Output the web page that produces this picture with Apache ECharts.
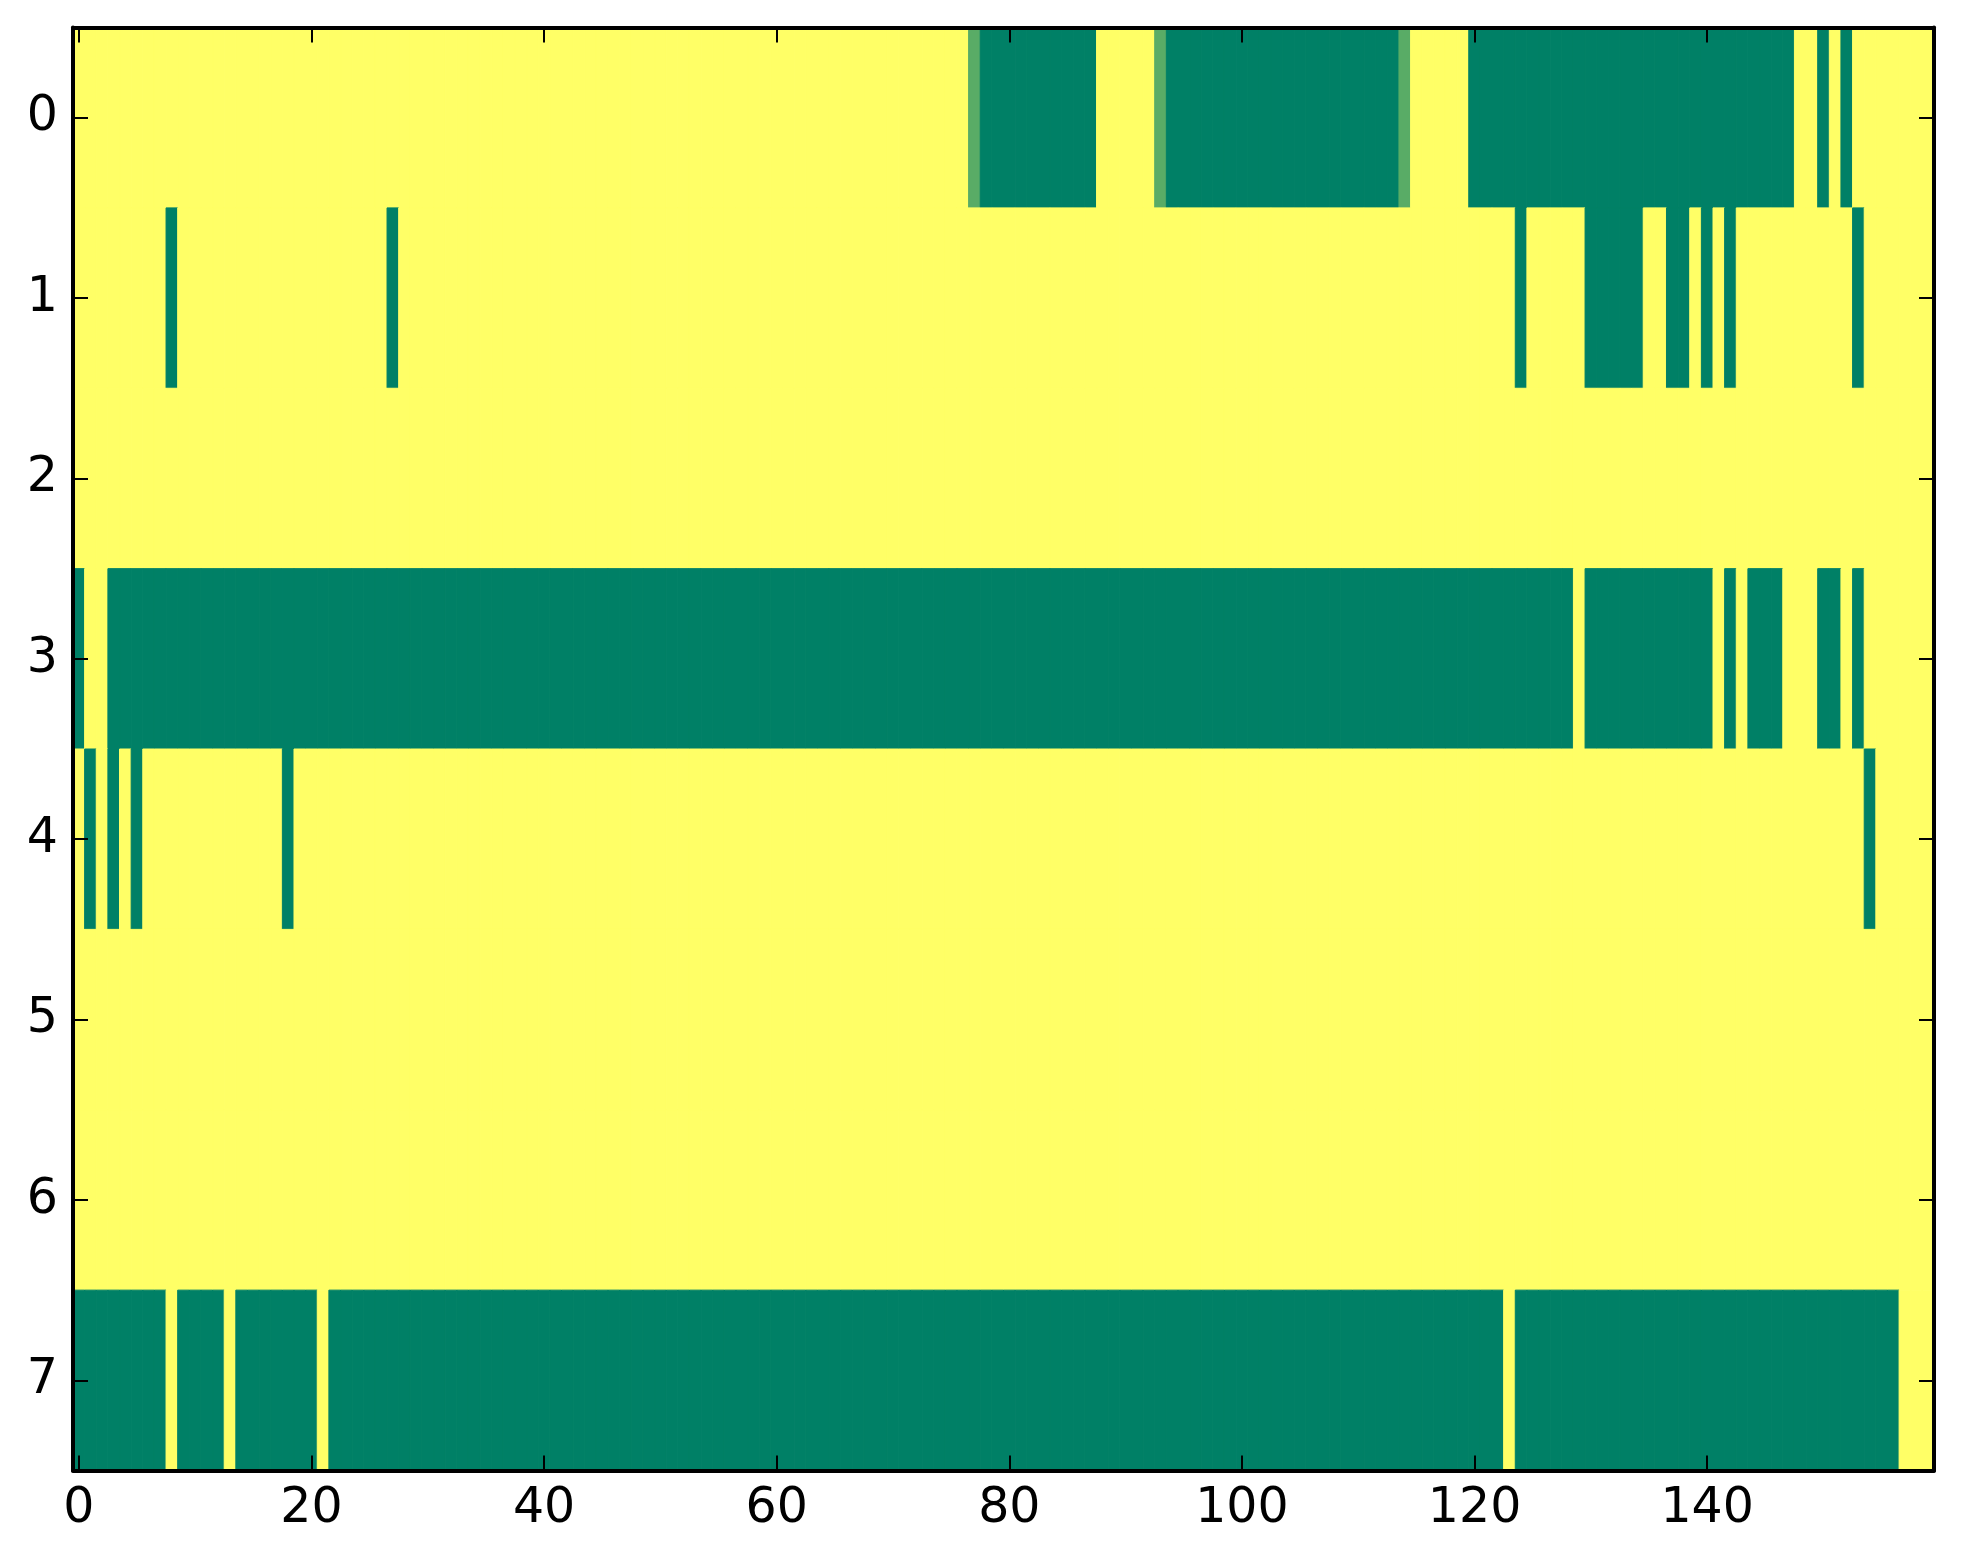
<!DOCTYPE html>
<html>
<head>
<meta charset="utf-8">
<style>
  html, body { margin: 0; padding: 0; background: #fff; }
  #chart { width: 1963px; height: 1564px; }
</style>
<script src="https://cdn.jsdelivr.net/npm/echarts@6/dist/echarts.min.js"></script>
</head>
<body>
<div id="chart"></div>
<script>
// one array per image row, 160 columns each (1 = yellow, 0 = green)
var row0 = [
  1,1,1,1,1,1,1,1,1,1,1,1,1,1,1,1,1,1,1,1,
  1,1,1,1,1,1,1,1,1,1,1,1,1,1,1,1,1,1,1,1,
  1,1,1,1,1,1,1,1,1,1,1,1,1,1,1,1,1,1,1,1,
  1,1,1,1,1,1,1,1,1,1,1,1,1,1,1,1,1,0.35,0,0,
  0,0,0,0,0,0,0,0,1,1,1,1,1,0.35,0,0,0,0,0,0,
  0,0,0,0,0,0,0,0,0,0,0,0,0,0,0.35,1,1,1,1,1,
  0,0,0,0,0,0,0,0,0,0,0,0,0,0,0,0,0,0,0,0,
  0,0,0,0,0,0,0,0,1,1,0,1,0,1,1,1,1,1,1,1
];
var row1 = [
  1,1,1,1,1,1,1,1,0,1,1,1,1,1,1,1,1,1,1,1,
  1,1,1,1,1,1,1,0,1,1,1,1,1,1,1,1,1,1,1,1,
  1,1,1,1,1,1,1,1,1,1,1,1,1,1,1,1,1,1,1,1,
  1,1,1,1,1,1,1,1,1,1,1,1,1,1,1,1,1,1,1,1,
  1,1,1,1,1,1,1,1,1,1,1,1,1,1,1,1,1,1,1,1,
  1,1,1,1,1,1,1,1,1,1,1,1,1,1,1,1,1,1,1,1,
  1,1,1,1,0,1,1,1,1,1,0,0,0,0,0,1,1,0,0,1,
  0,1,0,1,1,1,1,1,1,1,1,1,1,0,1,1,1,1,1,1
];
var row2 = [
  1,1,1,1,1,1,1,1,1,1,1,1,1,1,1,1,1,1,1,1,
  1,1,1,1,1,1,1,1,1,1,1,1,1,1,1,1,1,1,1,1,
  1,1,1,1,1,1,1,1,1,1,1,1,1,1,1,1,1,1,1,1,
  1,1,1,1,1,1,1,1,1,1,1,1,1,1,1,1,1,1,1,1,
  1,1,1,1,1,1,1,1,1,1,1,1,1,1,1,1,1,1,1,1,
  1,1,1,1,1,1,1,1,1,1,1,1,1,1,1,1,1,1,1,1,
  1,1,1,1,1,1,1,1,1,1,1,1,1,1,1,1,1,1,1,1,
  1,1,1,1,1,1,1,1,1,1,1,1,1,1,1,1,1,1,1,1
];
var row3 = [
  0,1,1,0,0,0,0,0,0,0,0,0,0,0,0,0,0,0,0,0,
  0,0,0,0,0,0,0,0,0,0,0,0,0,0,0,0,0,0,0,0,
  0,0,0,0,0,0,0,0,0,0,0,0,0,0,0,0,0,0,0,0,
  0,0,0,0,0,0,0,0,0,0,0,0,0,0,0,0,0,0,0,0,
  0,0,0,0,0,0,0,0,0,0,0,0,0,0,0,0,0,0,0,0,
  0,0,0,0,0,0,0,0,0,0,0,0,0,0,0,0,0,0,0,0,
  0,0,0,0,0,0,0,0,0,1,0,0,0,0,0,0,0,0,0,0,
  0,1,0,1,0,0,0,1,1,1,0,0,1,0,1,1,1,1,1,1
];
var row4 = [
  1,0,1,0,1,0,1,1,1,1,1,1,1,1,1,1,1,1,0,1,
  1,1,1,1,1,1,1,1,1,1,1,1,1,1,1,1,1,1,1,1,
  1,1,1,1,1,1,1,1,1,1,1,1,1,1,1,1,1,1,1,1,
  1,1,1,1,1,1,1,1,1,1,1,1,1,1,1,1,1,1,1,1,
  1,1,1,1,1,1,1,1,1,1,1,1,1,1,1,1,1,1,1,1,
  1,1,1,1,1,1,1,1,1,1,1,1,1,1,1,1,1,1,1,1,
  1,1,1,1,1,1,1,1,1,1,1,1,1,1,1,1,1,1,1,1,
  1,1,1,1,1,1,1,1,1,1,1,1,1,1,0,1,1,1,1,1
];
var row5 = [
  1,1,1,1,1,1,1,1,1,1,1,1,1,1,1,1,1,1,1,1,
  1,1,1,1,1,1,1,1,1,1,1,1,1,1,1,1,1,1,1,1,
  1,1,1,1,1,1,1,1,1,1,1,1,1,1,1,1,1,1,1,1,
  1,1,1,1,1,1,1,1,1,1,1,1,1,1,1,1,1,1,1,1,
  1,1,1,1,1,1,1,1,1,1,1,1,1,1,1,1,1,1,1,1,
  1,1,1,1,1,1,1,1,1,1,1,1,1,1,1,1,1,1,1,1,
  1,1,1,1,1,1,1,1,1,1,1,1,1,1,1,1,1,1,1,1,
  1,1,1,1,1,1,1,1,1,1,1,1,1,1,1,1,1,1,1,1
];
var row6 = [
  1,1,1,1,1,1,1,1,1,1,1,1,1,1,1,1,1,1,1,1,
  1,1,1,1,1,1,1,1,1,1,1,1,1,1,1,1,1,1,1,1,
  1,1,1,1,1,1,1,1,1,1,1,1,1,1,1,1,1,1,1,1,
  1,1,1,1,1,1,1,1,1,1,1,1,1,1,1,1,1,1,1,1,
  1,1,1,1,1,1,1,1,1,1,1,1,1,1,1,1,1,1,1,1,
  1,1,1,1,1,1,1,1,1,1,1,1,1,1,1,1,1,1,1,1,
  1,1,1,1,1,1,1,1,1,1,1,1,1,1,1,1,1,1,1,1,
  1,1,1,1,1,1,1,1,1,1,1,1,1,1,1,1,1,1,1,1
];
var row7 = [
  0,0,0,0,0,0,0,0,1,0,0,0,0,1,0,0,0,0,0,0,
  0,1,0,0,0,0,0,0,0,0,0,0,0,0,0,0,0,0,0,0,
  0,0,0,0,0,0,0,0,0,0,0,0,0,0,0,0,0,0,0,0,
  0,0,0,0,0,0,0,0,0,0,0,0,0,0,0,0,0,0,0,0,
  0,0,0,0,0,0,0,0,0,0,0,0,0,0,0,0,0,0,0,0,
  0,0,0,0,0,0,0,0,0,0,0,0,0,0,0,0,0,0,0,0,
  0,0,0,1,0,0,0,0,0,0,0,0,0,0,0,0,0,0,0,0,
  0,0,0,0,0,0,0,0,0,0,0,0,0,0,0,0,0,1,1,1
];
var rows = [row0, row1, row2, row3, row4, row5, row6, row7];

// axis categories: column index and row index
var colNames = [];
for (var c = 0; c < row0.length; c++) colNames.push(String(c));
var rowNames = ['0', '1', '2', '3', '4', '5', '6', '7'];

// [x, y, value] per cell
var cells = [];
rows.forEach(function (r, y) {
    r.forEach(function (v, x) {
        cells.push([x, y, v]);
    });
});

var myChart = echarts.init(document.getElementById('chart'));

var lineStyle = { color: '#000', width: 4 };
var tickStyle = { color: '#000', width: 2 };
var labelStyle = {
    color: '#000',
    fontSize: 49,
    fontFamily: 'DejaVu Sans'
};

// one rect per cell, stroked in its own colour so neighbours don't leave seams
function drawCell(params, api) {
    var p = api.coord([api.value(0), api.value(1)]);
    var s = api.size([1, 1]);
    var col = api.visual('color');
    return {
        type: 'rect',
        shape: { x: p[0] - s[0] / 2, y: p[1] - s[1] / 2, width: s[0], height: s[1] },
        style: { fill: col, stroke: col, lineWidth: 1 }
    };
}

function xTick() {
    return { show: true, inside: true, length: 15, alignWithLabel: true, interval: 19, lineStyle: tickStyle };
}
function yTick() {
    return { show: true, inside: true, length: 15, alignWithLabel: true, interval: 0, lineStyle: tickStyle };
}

option = {
    backgroundColor: '#fff',
    animation: false,
    grid: {
        left: 73,
        right: 29,
        top: 27.5,
        bottom: 93.5
    },
    xAxis: [
        {
            type: 'category',
            data: colNames,
            position: 'bottom',
            zlevel: 1,
            axisLine: { show: true, lineStyle: lineStyle },
            axisTick: xTick(),
            axisLabel: Object.assign({ show: true, interval: 19, margin: 14 }, labelStyle),
            splitLine: { show: false }
        },
        {
            type: 'category',
            data: colNames,
            position: 'top',
            zlevel: 1,
            axisLine: { show: true, lineStyle: lineStyle },
            axisTick: xTick(),
            axisLabel: { show: false },
            splitLine: { show: false }
        }
    ],
    yAxis: [
        {
            type: 'category',
            data: rowNames,
            inverse: true,
            position: 'left',
            zlevel: 1,
            axisLine: { show: true, lineStyle: lineStyle },
            axisTick: yTick(),
            axisLabel: Object.assign({ show: true, margin: 15 }, labelStyle),
            splitLine: { show: false }
        },
        {
            type: 'category',
            data: rowNames,
            inverse: true,
            position: 'right',
            zlevel: 1,
            axisLine: { show: true, lineStyle: lineStyle },
            axisTick: yTick(),
            axisLabel: { show: false },
            splitLine: { show: false }
        }
    ],
    visualMap: {
        show: false,
        type: 'continuous',
        min: 0,
        max: 1,
        dimension: 2,
        seriesIndex: 0,
        inRange: { color: ['#008066', '#ffff66'] } // summer colormap
    },
    series: [
        {
            type: 'custom',
            xAxisIndex: 0,
            yAxisIndex: 0,
            renderItem: drawCell,
            encode: { x: 0, y: 1 },
            data: cells,
            silent: true
        }
    ]
};
myChart.setOption(option);
</script>
</body>
</html>
